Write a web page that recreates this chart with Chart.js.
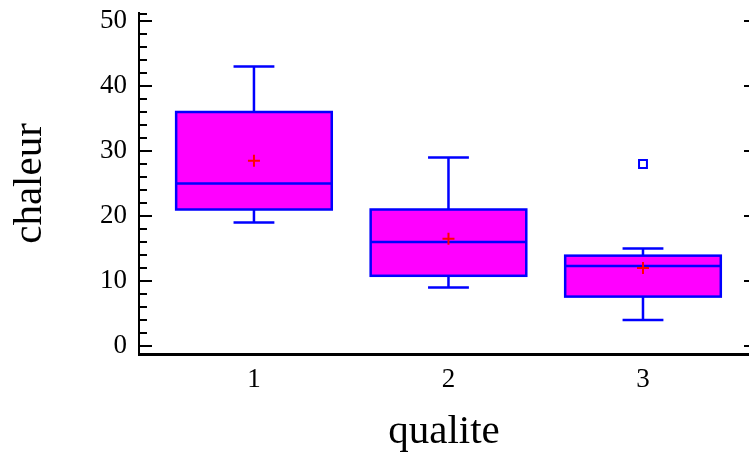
<!DOCTYPE html>
<html><head><meta charset="utf-8">
<script src="https://cdn.jsdelivr.net/npm/chart.js@4"></script>
<style>html,body{margin:0;padding:0;background:#fff;} canvas{display:block}</style>
</head><body>
<canvas id="c" width="749" height="453"></canvas>
<script>
// ---- data ----
const categories = [1, 2, 3];
const whiskerLow = [19, 9, 4];
const q1 = [21, 10.8, 7.6];
const median = [25, 16, 12.3];
const q3 = [36, 21, 13.9];
const whiskerHigh = [43, 29, 15];
const means = [28.5, 16.5, 12];
const outlierX = [3];
const outlierY = [28];
const yTickValues = [0, 10, 20, 30, 40, 50];
const xTickValues = [1, 2, 3];
const xTitle = 'qualite';
const yTitle = 'chaleur';

const SERIF = "'Liberation Serif', 'Times New Roman', serif";
const BLUE = '#0000ff', MAGENTA = '#ff00ff', RED = '#ff0000';

const boxPlugin = {
  id: 'boxplot',
  beforeDatasetsDraw(chart) {
    const {ctx, scales: {x, y}} = chart;
    ctx.save();
    ctx.lineWidth = 2.5;
    ctx.strokeStyle = BLUE;
    ctx.fillStyle = MAGENTA;
    categories.forEach((c, i) => {
      const xc = x.getPixelForValue(c);
      const xl = x.getPixelForValue(c - 0.4), xr = x.getPixelForValue(c + 0.4);
      const cl = x.getPixelForValue(c - 0.105), cr = x.getPixelForValue(c + 0.105);
      const yLo = y.getPixelForValue(whiskerLow[i]);
      const yQ1 = y.getPixelForValue(q1[i]);
      const yMed = y.getPixelForValue(median[i]);
      const yQ3 = y.getPixelForValue(q3[i]);
      const yHi = y.getPixelForValue(whiskerHigh[i]);
      ctx.beginPath();
      ctx.moveTo(xc, yQ3); ctx.lineTo(xc, yHi);
      ctx.moveTo(cl, yHi); ctx.lineTo(cr, yHi);
      ctx.moveTo(xc, yQ1); ctx.lineTo(xc, yLo);
      ctx.moveTo(cl, yLo); ctx.lineTo(cr, yLo);
      ctx.stroke();
      ctx.fillRect(xl, yQ3, xr - xl, yQ1 - yQ3);
      ctx.strokeRect(xl, yQ3, xr - xl, yQ1 - yQ3);
      ctx.beginPath();
      ctx.moveTo(xl, yMed); ctx.lineTo(xr, yMed);
      ctx.stroke();
    });
    ctx.restore();
  },
  afterDraw(chart) {
    const {ctx, chartArea: a, scales: {y}} = chart;
    ctx.save();
    ctx.strokeStyle = '#000';
    ctx.lineWidth = 2;
    ctx.beginPath();
    for (let v = 0; v <= 50; v += 2) {
      const py = Math.round(y.getPixelForValue(v));
      const len = (v % 10 === 0) ? 13 : 8;
      ctx.moveTo(a.left, py); ctx.lineTo(a.left + len, py);
    }
    ctx.moveTo(a.left, a.top + 1); ctx.lineTo(a.left + 8, a.top + 1);
    yTickValues.forEach(v => {
      const py = Math.round(y.getPixelForValue(v));
      ctx.moveTo(a.right, py); ctx.lineTo(a.right - 5, py);
    });
    ctx.stroke();
    ctx.restore();
  }
};

function noPad(s) { s.paddingTop = 0; s.paddingBottom = 0; s.paddingLeft = 0; s.paddingRight = 0; }

new Chart(document.getElementById('c'), {
  type: 'scatter',
  data: {
    datasets: [
      {
        label: 'mean',
        data: categories.map((c, i) => ({x: c, y: means[i]})),
        pointStyle: 'cross', radius: 6, borderColor: RED, borderWidth: 2,
        backgroundColor: RED
      },
      {
        label: 'outliers',
        data: outlierX.map((c, i) => ({x: c, y: outlierY[i]})),
        pointStyle: 'rect', radius: 5.6, borderColor: BLUE, borderWidth: 2,
        backgroundColor: '#ffffff'
      }
    ]
  },
  options: {
    responsive: false,
    animation: false,
    events: [],
    layout: {autoPadding: false, padding: {left: 0, right: 0, top: 13, bottom: 0}},
    plugins: {legend: {display: false}, tooltip: {enabled: false}},
    scales: {
      x: {
        type: 'linear', min: 0.409, max: 3.545,
        grid: {display: false, drawTicks: false},
        border: {display: true, color: '#000', width: 3},
        afterBuildTicks: s => { s.ticks = xTickValues.map(v => ({value: v})); },
        afterFit: s => { s.height = 99; noPad(s); },
        ticks: {font: {family: SERIF, size: 27}, color: '#000', padding: 10, maxRotation: 0, autoSkip: false},
        title: {display: true, text: xTitle, font: {family: SERIF, size: 41, lineHeight: 1}, color: '#000', padding: {top: 0, bottom: 0}}
      },
      y: {
        type: 'linear', min: -1.23, max: 51.23,
        grid: {display: false, drawTicks: false},
        border: {display: true, color: '#000', width: 2},
        afterBuildTicks: s => { s.ticks = yTickValues.map(v => ({value: v})); },
        afterFit: s => { s.width = 139; noPad(s); },
        ticks: {font: {family: SERIF, size: 27}, color: '#000', padding: 12, autoSkip: false},
        title: {display: true, text: yTitle, font: {family: SERIF, size: 41}, color: '#000', padding: {top: 6, bottom: 0}}
      }
    }
  },
  plugins: [boxPlugin]
});
</script>
</body></html>
